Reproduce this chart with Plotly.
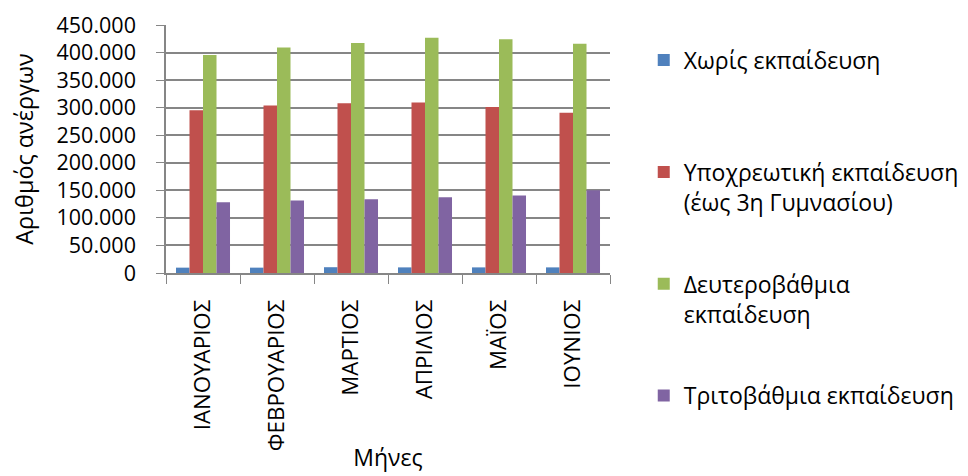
import plotly.graph_objects as go

months = ["ΙΑΝΟΥΑΡΙΟΣ", "ΦΕΒΡΟΥΑΡΙΟΣ", "ΜΑΡΤΙΟΣ", "ΑΠΡΙΛΙΟΣ", "ΜΑΪΟΣ", "ΙΟΥΝΙΟΣ"]
no_education = [9700, 9700, 10500, 10200, 10200, 10200]
compulsory = [295500, 304000, 308000, 309500, 301000, 291000]
secondary = [395500, 409000, 417500, 427000, 424000, 416000]
tertiary = [128500, 131500, 134000, 137500, 140500, 150000]

series_names = [
    "Χωρίς εκπαίδευση<br>\u00a0",
    "Υποχρεωτική εκπαίδευση<br>(έως 3η Γυμνασίου)",
    "Δευτεροβάθμια<br>εκπαίδευση",
    "Τριτοβάθμια εκπαίδευση",
]
series_values = [no_education, compulsory, secondary, tertiary]
colors = ["#4F81BD", "#C0504D", "#9BBB59", "#8064A2"]

FONT = "Open Sans"
fig = go.Figure()
for i, (name, vals, col) in enumerate(zip(series_names, series_values, colors)):
    fig.add_trace(go.Bar(x=months, y=vals, name=name, marker_color=col,
                         marker_line_width=0, legendgroup=f"g{i}"))

fig.update_layout(
    width=968, height=476,
    margin=dict(l=158, r=350, t=17, b=211),
    paper_bgcolor="white", plot_bgcolor="white",
    barmode="group", bargap=0.27, bargroupgap=0,
    separators=",.",
    font=dict(family=FONT, size=23, color="#000000"),
    showlegend=True,
    legend=dict(
        x=1.076, y=0.945, xanchor="left", yanchor="top",
        font=dict(family=FONT, size=23, color="#000000"),
        tracegroupgap=49, valign="top", itemwidth=30,
        maxheight=470,
    ),
    yaxis=dict(
        range=[0, 450000], dtick=50000, tickformat=",d",
        showgrid=True, gridcolor="#868686", gridwidth=1.5,
        showline=True, linecolor="#868686", linewidth=1.5,
        ticks="outside", ticklen=8, tickcolor="#868686",
        ticklabelstandoff=16,
        title=dict(text="Αριθμός ανέργων", font=dict(size=23.4), standoff=24),
        tickfont=dict(size=21.5),
        zeroline=False, automargin=False,
    ),
    xaxis=dict(
        showline=True, linecolor="#868686", linewidth=1.5,
        ticks="outside", ticklen=9, tickcolor="#868686", tickson="boundaries",
        ticklabelstandoff=16,
        tickangle=-90, tickfont=dict(size=22.3),
        title=dict(text="Μήνες", font=dict(size=23), standoff=0),
        automargin=False,
    ),
)

fig.write_html("out.html")
